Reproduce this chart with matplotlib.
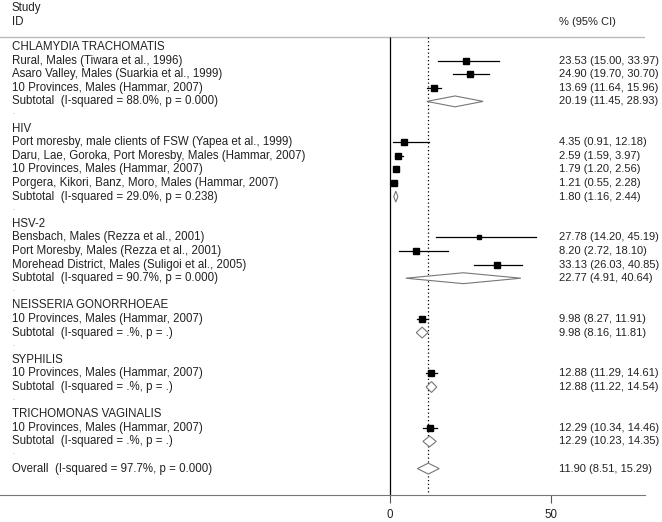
import matplotlib
matplotlib.use('Agg')
import matplotlib.pyplot as plt
from matplotlib.transforms import blended_transform_factory

plt.rc('font', family='Liberation Sans', size=8.3)

# ---- data ----
groups = ['CHLAMYDIA TRACHOMATIS', 'HIV', 'HSV-2', 'NEISSERIA GONORRHOEAE',
          'SYPHILIS', 'TRICHOMONAS VAGINALIS']

study_labels = [
    'Rural, Males (Tiwara et al., 1996)',
    'Asaro Valley, Males (Suarkia et al., 1999)',
    '10 Provinces, Males (Hammar, 2007)',
    'Port moresby, male clients of FSW (Yapea et al., 1999)',
    'Daru, Lae, Goroka, Port Moresby, Males (Hammar, 2007)',
    '10 Provinces, Males (Hammar, 2007)',
    'Porgera, Kikori, Banz, Moro, Males (Hammar, 2007)',
    'Bensbach, Males (Rezza et al., 2001)',
    'Port Moresby, Males (Rezza et al., 2001)',
    'Morehead District, Males (Suligoi et al., 2005)',
    '10 Provinces, Males (Hammar, 2007)',
    '10 Provinces, Males (Hammar, 2007)',
    '10 Provinces, Males (Hammar, 2007)',
]
study_group = [0, 0, 0, 1, 1, 1, 1, 2, 2, 2, 3, 4, 5]
study_est = [23.53, 24.90, 13.69, 4.35, 2.59, 1.79, 1.21, 27.78, 8.20, 33.13, 9.98, 12.88, 12.29]
study_lo = [15.00, 19.70, 11.64, 0.91, 1.59, 1.20, 0.55, 14.20, 2.72, 26.03, 8.27, 11.29, 10.34]
study_hi = [33.97, 30.70, 15.96, 12.18, 3.97, 2.56, 2.28, 45.19, 18.10, 40.85, 11.91, 14.61, 14.46]
# approximate relative weights (square size)
study_wt = [7.5, 9.0, 9.0, 7.5, 7.5, 8.0, 8.5, 4.5, 7.0, 7.5, 8.5, 8.5, 8.5]

sub_het = ['88.0%, p = 0.000', '29.0%, p = 0.238', '90.7%, p = 0.000',
           '.%, p = .', '.%, p = .', '.%, p = .']
sub_est = [20.19, 1.80, 22.77, 9.98, 12.88, 12.29]
sub_lo = [11.45, 1.16, 4.91, 8.16, 11.22, 10.23]
sub_hi = [28.93, 2.44, 40.64, 11.81, 14.54, 14.35]

overall_het = '97.7%, p = 0.000'
overall_est, overall_lo, overall_hi = 11.90, 8.51, 15.29

xticks = [0, 50]

# ---- figure ----
W, H = 662, 522
fig = plt.figure(figsize=(W / 100, H / 100), dpi=100)
ax = fig.add_axes([0, 27 / H, 645 / W, 1 - 27 / H])

px = 161 / 50.0          # pixels per unit
row = 13.6               # pixels per row
ax.set_xlim(-390 / px, (645 - 390) / px)
ax.set_ylim((495 - 47) / row, -47 / row)

for s in ['top', 'left', 'right']:
    ax.spines[s].set_visible(False)
ax.spines['bottom'].set_color('#777777')
ax.set_yticks([])
ax.set_xticks(xticks)
ax.tick_params(axis='x', length=6, color='#555555', labelcolor='#222222', pad=4, labelsize=8.3)

tr = blended_transform_factory(ax.transAxes, ax.transData)
tcol = '#222222'
rsize = 8.0
xl = 12 / 645
xr = 559 / 645
top_line = -10 / row

def fmt(e, l, h):
    return f'{e:.2f} ({l:.2f}, {h:.2f})'

def diamond(e, l, h, y):
    ax.fill([l, e, h, e, l], [y, y - 0.4, y, y + 0.4, y], facecolor='white',
            edgecolor='#777777', linewidth=0.8, zorder=3)

y = 0
for g, name in enumerate(groups):
    ax.text(xl, y, name, transform=tr, va='center', color=tcol)
    y += 1
    for i in range(len(study_labels)):
        if study_group[i] != g:
            continue
        ax.text(xl, y, study_labels[i], transform=tr, va='center', color=tcol)
        ax.text(xr, y, fmt(study_est[i], study_lo[i], study_hi[i]), transform=tr,
                va='center', color=tcol, fontsize=rsize)
        ax.plot([study_lo[i], study_hi[i]], [y, y], color='black', lw=0.9, zorder=3)
        ax.plot(study_est[i], y, marker='s', ms=study_wt[i] * 0.55, color='black',
                mec='black', zorder=4, clip_on=False)
        y += 1
    ax.text(xl, y, f'Subtotal  (I-squared = {sub_het[g]})', transform=tr,
            va='center', color=tcol)
    ax.text(xr, y, fmt(sub_est[g], sub_lo[g], sub_hi[g]), transform=tr,
            va='center', color=tcol, fontsize=rsize)
    diamond(sub_est[g], sub_lo[g], sub_hi[g], y)
    y += 1
    ax.text(xl, y - 0.15, '.', transform=tr, va='center', color='#999999', fontsize=5)
    y += 1

ax.text(xl, y, f'Overall  (I-squared = {overall_het})', transform=tr,
        va='center', color=tcol)
ax.text(xr, y, fmt(overall_est, overall_lo, overall_hi), transform=tr,
        va='center', color=tcol, fontsize=rsize)
diamond(overall_est, overall_lo, overall_hi, y)

# header
ax.text(xl, -39 / row, 'Study', transform=tr, va='center', color=tcol)
ax.text(xl, -25 / row, 'ID', transform=tr, va='center', color=tcol)
ax.text(xr, -25 / row, '% (95% CI)', transform=tr, va='center', color=tcol, fontsize=rsize)
ax.axhline(top_line, color='#bbbbbb', lw=1)

ybot = ax.get_ylim()[0]
ax.vlines(0, top_line, ybot, color='black', lw=0.9)
ax.vlines(overall_est, top_line, ybot, color='black', lw=0.9, linestyles=(0, (1, 2)))

fig.savefig('out.png', dpi=100)
